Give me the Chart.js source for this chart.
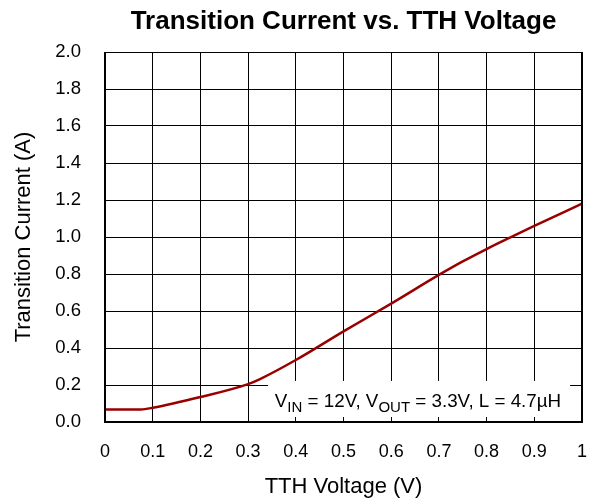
<!DOCTYPE html>
<html>
<head>
<meta charset="utf-8">
<script src="https://cdn.jsdelivr.net/npm/chart.js@4/dist/chart.umd.min.js"></script>
<style>
  html, body { margin: 0; padding: 0; background: #fff; }
  #wrap { width: 597px; height: 500px; }
</style>
</head>
<body>
<div id="wrap"><canvas id="c" width="597" height="500"></canvas></div>
<script>
// ---- data ----
const tthVoltage = [0, 0.075, 0.1, 0.2, 0.3, 0.325, 0.4, 0.5, 0.6, 0.7, 0.75, 0.8, 0.85, 0.9, 1.0];
const transitionCurrent = [0.067, 0.068, 0.077, 0.135, 0.205, 0.232, 0.335, 0.49, 0.64, 0.795, 0.868, 0.935, 0.998, 1.06, 1.18];
const xTicks = [0, 0.1, 0.2, 0.3, 0.4, 0.5, 0.6, 0.7, 0.8, 0.9, 1];
const yTicks = [0, 0.2, 0.4, 0.6, 0.8, 1.0, 1.2, 1.4, 1.6, 1.8, 2.0];
const chartTitle = 'Transition Current vs. TTH Voltage';
const xTitle = 'TTH Voltage (V)';
const yTitle = 'Transition Current (A)';
const noteParts = [['V', false], ['IN', true], [' = 12V, V', false], ['OUT', true], [' = 3.3V, L = 4.7µH', false]];

const FONT = '"Liberation Sans", Arial, Helvetica, sans-serif';
const points = tthVoltage.map((x, i) => ({ x: x, y: transitionCurrent[i] }));

const notePlugin = {
  id: 'note',
  beforeDatasetsDraw(chart) {
    const ctx = chart.ctx, xs = chart.scales.x, ys = chart.scales.y;
    const x0 = xs.getPixelForValue(0.342), x1 = xs.getPixelForValue(0.975);
    const y0 = ys.getPixelForValue(0.222), y1 = ys.getPixelForValue(0.027);
    ctx.save();
    ctx.fillStyle = '#fff';
    ctx.fillRect(x0, y0, x1 - x0, y1 - y0);
    let tx = xs.getPixelForValue(0.356);
    const by = ys.getPixelForValue(0.081);
    ctx.fillStyle = '#000';
    ctx.textBaseline = 'alphabetic';
    ctx.textAlign = 'left';
    noteParts.forEach(([t, sub]) => {
      ctx.font = (sub ? '15px ' : '18.8px ') + FONT;
      ctx.fillText(t, tx, by + (sub ? 5 : 0));
      tx += ctx.measureText(t).width;
    });
    ctx.restore();
  },
  afterDraw(chart) {
    const a = chart.chartArea, ctx = chart.ctx;
    const L = Math.round(a.left), R = Math.round(a.right), T = Math.round(a.top), B = Math.round(a.bottom);
    ctx.save();
    ctx.fillStyle = '#000';
    ctx.fillRect(L, T, R - L, 1);          // top edge
    ctx.fillRect(L - 1, T, 2, B - T + 1);  // left edge
    ctx.fillRect(R - 1, T, 2, B - T + 1);  // right edge
    ctx.fillRect(L - 1, B - 1, R - L + 2, 2); // bottom edge
    ctx.restore();
  }
};

new Chart(document.getElementById('c'), {
  type: 'line',
  data: {
    datasets: [{
      data: points,
      borderColor: '#990000',
      borderWidth: 2.5,
      pointRadius: 0,
      fill: false,
      cubicInterpolationMode: 'monotone'
    }]
  },
  options: {
    responsive: false,
    animation: false,
    devicePixelRatio: 1,
    layout: { padding: { left: 0, right: 15, top: 0, bottom: 0 } },
    plugins: {
      legend: { display: false },
      tooltip: { enabled: false },
      title: {
        display: true,
        text: chartTitle,
        fullSize: false,
        color: '#000',
        font: { family: FONT, size: 26, weight: 'bold', lineHeight: 1.2 },
        padding: { top: 6, bottom: 14.8 }
      }
    },
    scales: {
      x: {
        type: 'linear',
        min: 0, max: 1,
        afterBuildTicks(s) { s.ticks = xTicks.map(v => ({ value: v })); },
        afterFit(s) { s.height = 78; s.paddingLeft = 0; s.paddingRight = 0; },
        ticks: {
          color: '#000',
          font: { family: FONT, size: 18 },
          padding: 19,
          maxRotation: 0,
          autoSkip: false,
          callback: v => String(v)
        },
        grid: { color: '#000', lineWidth: 1, drawTicks: false },
        border: { display: false },
        title: {
          display: true, text: xTitle, color: '#000',
          font: { family: FONT, size: 22 },
          padding: { top: 0, bottom: 0 }
        }
      },
      y: {
        type: 'linear',
        min: 0, max: 2,
        afterBuildTicks(s) { s.ticks = yTicks.map(v => ({ value: v })); },
        afterFit(s) { s.width = 105; s.paddingTop = 0; s.paddingBottom = 0; },
        ticks: {
          color: '#000',
          font: { family: FONT, size: 18.5 },
          padding: 24,
          autoSkip: false,
          callback: v => v.toFixed(1)
        },
        grid: { color: '#000', lineWidth: 1, drawTicks: false },
        border: { display: false },
        title: {
          display: true, text: yTitle, color: '#000',
          font: { family: FONT, size: 22 },
          padding: { top: 11, bottom: 0 }
        }
      }
    }
  },
  plugins: [notePlugin]
});
</script>
</body>
</html>
